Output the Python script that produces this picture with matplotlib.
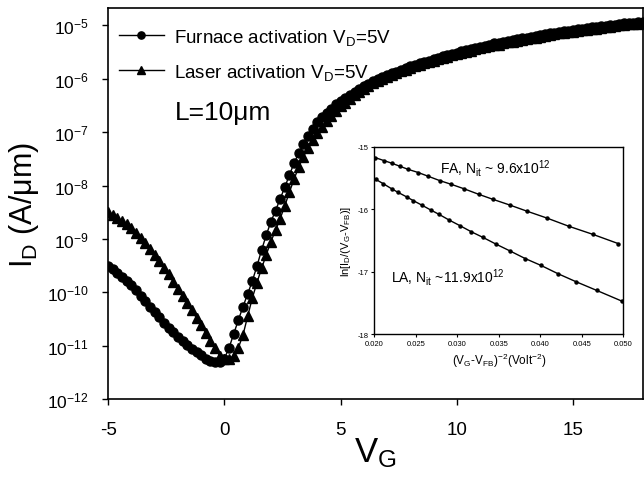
import numpy as np
import matplotlib
matplotlib.use("Agg")
import matplotlib.pyplot as plt

plt.rcParams['font.family'] = ['Liberation Sans', 'DejaVu Sans']
plt.rcParams['mathtext.fontset'] = 'custom'
plt.rcParams['mathtext.rm'] = 'Liberation Sans'
plt.rcParams['mathtext.it'] = 'Liberation Sans'
plt.rcParams['mathtext.default'] = 'regular'
plt.rcParams['axes.unicode_minus'] = False

# gate voltage sweep (V), 0.2 V step
vg = np.arange(-5.0, 18.001, 0.2)

# log10(I_D)
log_id_furnace = [
    -9.50, -9.56, -9.63, -9.71, -9.78, -9.86, -9.96, -10.06, -10.16, -10.27,
    -10.37, -10.47, -10.57, -10.66, -10.75, -10.84, -10.92, -10.99, -11.06, -11.12,
    -11.18, -11.24, -11.28, -11.31, -11.30,
    -11.24, -11.04, -10.78, -10.52, -10.27, -10.03, -9.79, -9.51, -9.21, -8.93,
    -8.68, -8.47, -8.25, -8.03, -7.80, -7.58, -7.39, -7.23, -7.08, -6.94,
    -6.82, -6.72, -6.64, -6.56, -6.48, -6.42, -6.36, -6.30, -6.24, -6.19,
    -6.14, -6.09, -6.05, -6.01, -5.97, -5.93, -5.90, -5.87, -5.83, -5.80,
    -5.77, -5.74, -5.71, -5.68, -5.66, -5.63, -5.61, -5.58, -5.56, -5.53,
    -5.51, -5.49, -5.47, -5.45, -5.42, -5.40, -5.38, -5.36, -5.34, -5.33,
    -5.31, -5.29, -5.28, -5.26, -5.24, -5.23, -5.21, -5.20, -5.18, -5.17,
    -5.15, -5.14, -5.12, -5.11, -5.10, -5.09, -5.07, -5.06, -5.05, -5.04,
    -5.03, -5.02, -5.01, -5.00, -4.99, -4.97, -4.96, -4.95, -4.95, -4.94,
    -4.93,
]
log_id_laser = [
    -8.50, -8.55, -8.61, -8.67, -8.73, -8.80, -8.89, -8.98, -9.08, -9.19,
    -9.30, -9.42, -9.54, -9.66, -9.80, -9.94, -10.07, -10.20, -10.34, -10.48,
    -10.62, -10.76, -10.91, -11.05, -11.19,
    -11.24, -11.25, -11.19, -11.04, -10.80, -10.45, -10.11, -9.82, -9.55, -9.30,
    -9.05, -8.84, -8.62, -8.38, -8.12, -7.88, -7.65, -7.46, -7.30, -7.15,
    -7.02, -6.91, -6.80, -6.70, -6.61, -6.52, -6.45, -6.38, -6.31, -6.25,
    -6.19, -6.13, -6.08, -6.04, -6.00, -5.96, -5.93, -5.90, -5.86, -5.83,
    -5.80, -5.77, -5.74, -5.71, -5.69, -5.66, -5.64, -5.61, -5.59, -5.56,
    -5.54, -5.52, -5.50, -5.48, -5.45, -5.43, -5.41, -5.39, -5.37, -5.36,
    -5.34, -5.32, -5.31, -5.29, -5.27, -5.26, -5.24, -5.23, -5.21, -5.20,
    -5.18, -5.17, -5.15, -5.14, -5.13, -5.12, -5.10, -5.09, -5.08, -5.07,
    -5.06, -5.05, -5.04, -5.03, -5.02, -5.00, -4.99, -4.98, -4.98, -4.97,
    -4.96,
]

# inset: ln[I_D/(V_G-V_FB)] vs (V_G-V_FB)^-2
fa_x = [0.0201, 0.0212, 0.0221, 0.0231, 0.0241, 0.0253, 0.0265, 0.0279, 0.0293,
        0.0308, 0.0326, 0.0343, 0.0363, 0.0384, 0.0408, 0.0434, 0.0463, 0.0494]
fa_y = [-15.17, -15.22, -15.26, -15.31, -15.36, -15.41, -15.47, -15.54, -15.60,
        -15.67, -15.76, -15.84, -15.93, -16.03, -16.14, -16.27, -16.40, -16.55]
la_x = [0.0202, 0.0211, 0.0221, 0.0229, 0.0239, 0.0247, 0.0257, 0.0268, 0.0278,
        0.0290, 0.0303, 0.0317, 0.0331, 0.0347, 0.0364, 0.0382, 0.0401, 0.0421,
        0.0443, 0.0468, 0.0498]
la_y = [-15.52, -15.59, -15.67, -15.73, -15.80, -15.86, -15.93, -16.01, -16.08,
        -16.17, -16.26, -16.36, -16.45, -16.56, -16.67, -16.79, -16.90, -17.03,
        -17.16, -17.30, -17.47]

fig = plt.figure(figsize=(6.44, 4.85), dpi=100)
ax = fig.add_axes([0.168, 0.175, 0.830, 0.806])

ax.plot(vg, 10 ** np.array(log_id_furnace), 'k-', marker='o', ms=6.5, lw=1,
        label='Furnace activation V$_D$=5V')
ax.plot(vg, 10 ** np.array(log_id_laser), 'k-', marker='^', ms=6.5, lw=1,
        label='Laser activation V$_D$=5V')

ax.set_yscale('log')
ax.set_xlim(-5, 18)
ax.set_ylim(1e-12, 10 ** -4.68)
ax.set_xticks([-5, 0, 5, 10, 15])
ax.set_yticks([10.0 ** k for k in range(-12, -4)])
ax.minorticks_off()
ax.tick_params(labelsize=12.5, length=4, width=1, direction='out')
ax.tick_params(axis='x', pad=12, labelsize=13.5)
ax.tick_params(axis='y', pad=10)
for s in ax.spines.values():
    s.set_linewidth(1.2)

ax.set_xlabel('V$_G$', fontsize=25, labelpad=-2)
ax.set_ylabel('I$_D$ (A/μm)', fontsize=22, labelpad=4)

ax.legend(loc='upper left', frameon=False, fontsize=13.5, handlelength=2.4,
          handletextpad=0.55, borderpad=0, borderaxespad=0, labelspacing=0.78,
          markerscale=0.8, bbox_to_anchor=(0.02, 0.952))
ax.text(0.125, 0.734, 'L=10μm', transform=ax.transAxes, fontsize=19,
        va='center', ha='left')

# inset
ins = fig.add_axes([0.581, 0.309, 0.387, 0.386])
ins.plot(fa_x, fa_y, 'k-', marker='o', ms=2.2, lw=1)
ins.plot(la_x, la_y, 'k-', marker='o', ms=2.2, lw=1)
ins.set_xlim(0.020, 0.050)
ins.set_ylim(-18, -15)
ins.set_xticks([0.020, 0.025, 0.030, 0.035, 0.040, 0.045, 0.050])
ins.set_xticklabels(['0.020', '0.025', '0.030', '0.035', '0.040', '0.045', '0.050'])
ins.set_yticks([-15, -16, -17, -18])
ins.tick_params(labelsize=5.5, length=2, width=0.8, pad=2)
ins.set_xlabel('(V$_G$-V$_{FB}$)$^{-2}$(Volt$^{-2}$)', fontsize=8.5, labelpad=3)
ins.set_ylabel('ln[I$_D$/(V$_G$-V$_{FB}$)]', fontsize=8, labelpad=3)
ins.text(0.265, 0.89, 'FA, N$_{it}$ ~ 9.6x10$^{12}$', transform=ins.transAxes,
         fontsize=10, va='center')
ins.text(0.068, 0.31, 'LA, N$_{it}$ ~11.9x10$^{12}$', transform=ins.transAxes,
         fontsize=10, va='center')
for s in ins.spines.values():
    s.set_linewidth(1)

fig.savefig('out.png', dpi=100)
